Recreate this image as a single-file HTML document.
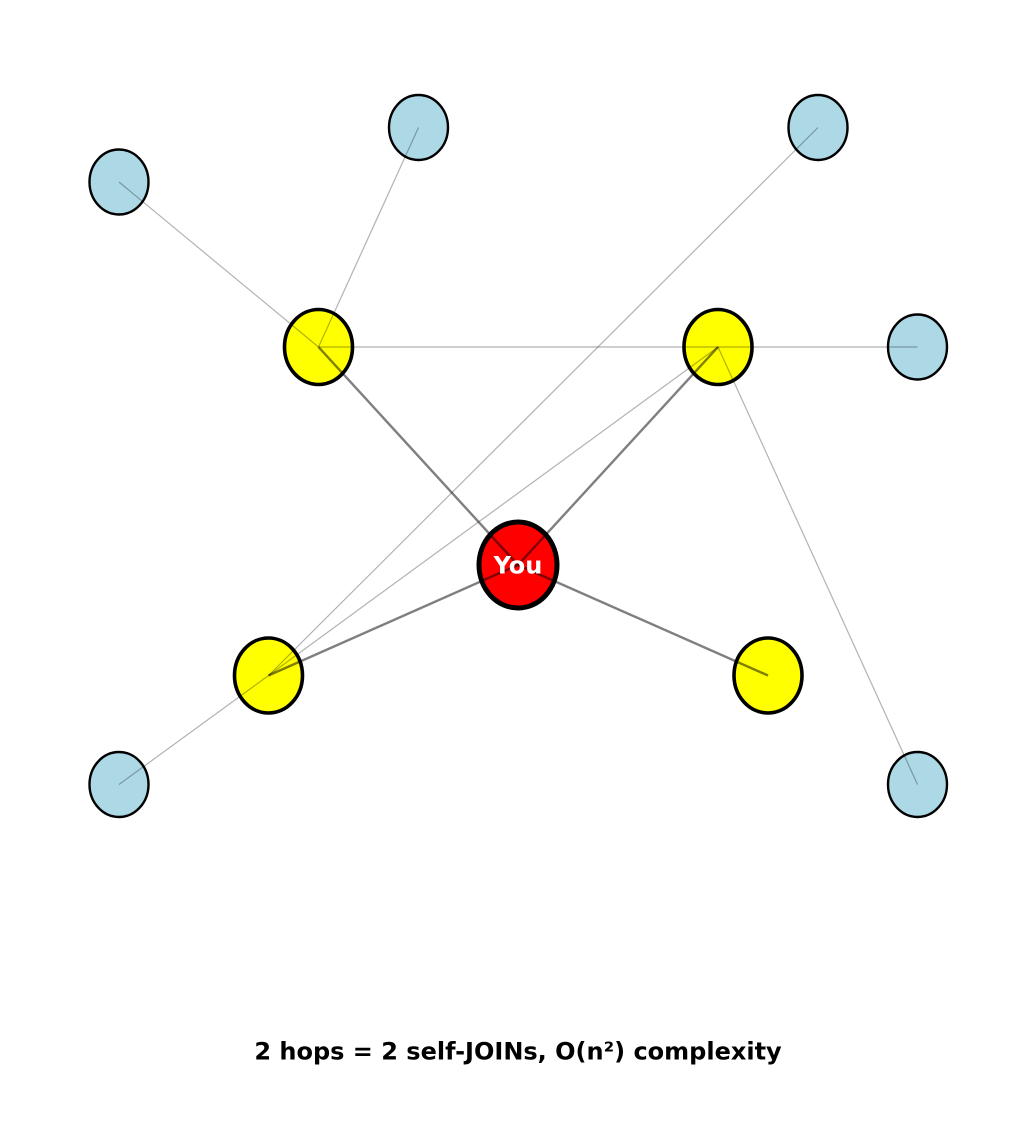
<!DOCTYPE html>
<html>
<head>
<meta charset="utf-8">
<style>
  html, body { margin:0; padding:0; background:#fff; }
  body { width:1036px; height:1132px; overflow:hidden; }
  svg { display:block; }
</style>
</head>
<body>
<svg width="1036" height="1132" viewBox="0 0 1036 1132" xmlns="http://www.w3.org/2000/svg">
  <rect width="1036" height="1132" fill="#fff"/>
  <!-- nodes -->
  <g stroke="#000" stroke-width="2.4" fill="#add8e6">
    <ellipse cx="119" cy="182" rx="29.5" ry="32.5"/>
    <ellipse cx="418.5" cy="127.5" rx="29.5" ry="32.5"/>
    <ellipse cx="818" cy="127.5" rx="29.5" ry="32.5"/>
    <ellipse cx="917.5" cy="347" rx="29.5" ry="32.5"/>
    <ellipse cx="119" cy="784.5" rx="29.5" ry="32.5"/>
    <ellipse cx="917.5" cy="784.5" rx="29.5" ry="32.5"/>
  </g>
  <g stroke="#000" stroke-width="3.6" fill="#ffff00">
    <ellipse cx="318.5" cy="347" rx="34" ry="37.5"/>
    <ellipse cx="718" cy="347" rx="34" ry="37.5"/>
    <ellipse cx="268.5" cy="675.5" rx="34" ry="37.5"/>
    <ellipse cx="768" cy="675.5" rx="34" ry="37.5"/>
  </g>
  <ellipse cx="518" cy="565" rx="39" ry="43" fill="#ff0000" stroke="#000" stroke-width="5"/>
  <!-- thin edges -->
  <g stroke="#000" stroke-opacity="0.3" stroke-width="1.2" fill="none">
    <line x1="318.5" y1="347" x2="119" y2="182"/>
    <line x1="318.5" y1="347" x2="418.5" y2="127.5"/>
    <line x1="318.5" y1="347" x2="718" y2="347"/>
    <line x1="718" y1="347" x2="917.5" y2="347"/>
    <line x1="268.5" y1="675.5" x2="818" y2="127.5"/>
    <line x1="268.5" y1="675.5" x2="718" y2="347"/>
    <line x1="268.5" y1="675.5" x2="119" y2="784.5"/>
    <line x1="718" y1="347" x2="917.5" y2="784.5"/>
  </g>
  <!-- thick edges -->
  <g stroke="#000" stroke-opacity="0.5" stroke-width="2.4" fill="none">
    <line x1="518" y1="565" x2="318.5" y2="347"/>
    <line x1="518" y1="565" x2="718" y2="347"/>
    <line x1="518" y1="565" x2="268.5" y2="675.5"/>
    <line x1="518" y1="565" x2="768" y2="675.5"/>
  </g>
  <text x="518" y="573.5" text-anchor="middle" font-family="DejaVu Sans, Liberation Sans, sans-serif" font-weight="bold" font-size="24" fill="#fff">You</text>
  <text x="518" y="1059.5" text-anchor="middle" font-family="DejaVu Sans, Liberation Sans, sans-serif" font-weight="bold" font-size="24" fill="#000">2 hops = 2 self-JOINs, O(n²) complexity</text>
</svg>
</body>
</html>
